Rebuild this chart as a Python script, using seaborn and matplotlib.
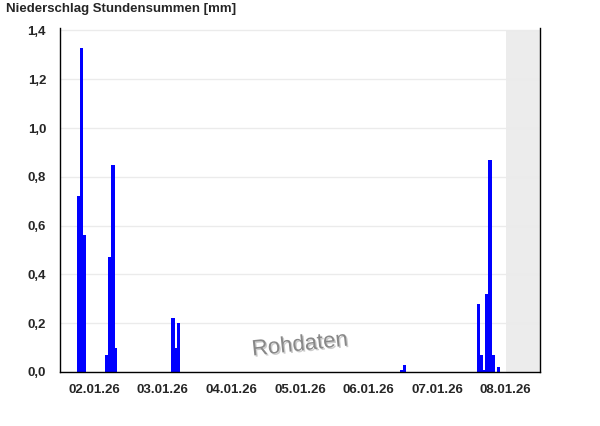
import numpy as np
import pandas as pd
import matplotlib
matplotlib.use("Agg")
import matplotlib.pyplot as plt
import matplotlib.patheffects as pe
import seaborn as sns

# ==========================================
# Data: hourly precipitation sums [mm]
# hours counted from 02.01.26 00:00
# ==========================================

rain_hours = [6, 7, 8, 16, 17, 18, 19, 39, 40, 41, 119, 120,
              146, 147, 148, 149, 150, 151, 153]
rain_mm = [0.72, 1.33, 0.56, 0.07, 0.47, 0.85, 0.10, 0.22, 0.10, 0.20, 0.01, 0.03,
           0.28, 0.07, 0.01, 0.32, 0.87, 0.07, 0.02]

day_labels = ["02.01.26", "03.01.26", "04.01.26", "05.01.26",
              "06.01.26", "07.01.26", "08.01.26"]
y_ticks = [0.0, 0.2, 0.4, 0.6, 0.8, 1.0, 1.2, 1.4]
no_data_from = 156  # 08.01.26 12:00

df = pd.DataFrame({"hour": rain_hours, "mm": rain_mm})

# ==========================================
# Plot
# ==========================================

sns.set_style("white")
plt.rcParams["font.family"] = ["Liberation Sans", "DejaVu Sans"]

fig = plt.figure(figsize=(6, 4.26), dpi=100)
ax = fig.add_axes([0.1, 0.1268, 0.8, 0.8075])

n_hours = 24 * len(day_labels)

ax.fill_between([no_data_from, n_hours], 0, 1.4, color="#ececec", lw=0, zorder=0)
for y in y_ticks:
    ax.axhline(y, color="#ebebeb", lw=1, zorder=0.5)

sns.histplot(
    data=df,
    x="hour",
    weights="mm",
    binwidth=1,
    binrange=(0, n_hours),
    shrink=1.2,
    color="#0000ff",
    alpha=1,
    linewidth=0,
    ax=ax,
    zorder=2
)

ax.set_xlim(0, n_hours)
ax.set_ylim(0, 1.41)
ax.set_xlabel("")
ax.set_ylabel("")

# y axis
ax.set_yticks(y_ticks)
ax.set_yticklabels([f"{v:.1f}".replace(".", ",") for v in y_ticks],
                   fontweight="bold", fontsize=9.5)
ax.tick_params(axis="y", direction="out", length=5, width=1, color="black", pad=5)

# x axis: long ticks at midnight, short ticks every 6 h, labels at noon
ax.set_xticks(np.arange(0, n_hours + 1, 24))
ax.set_xticklabels([])
minor_pos = [h for h in range(6, n_hours, 6) if h % 24 != 0]
minor_lab = [day_labels[h // 24] if h % 24 == 12 else "" for h in minor_pos]
ax.set_xticks(minor_pos, labels=minor_lab, minor=True)
for t in ax.get_xticklabels(minor=True):
    t.set_fontweight("bold")
    t.set_fontsize(9.5)
ax.tick_params(axis="x", which="major", direction="out", length=6, width=1, color="black")
ax.tick_params(axis="x", which="minor", direction="out", length=4, width=1,
               color="black", pad=5)

for side in ["left", "bottom", "right"]:
    ax.spines[side].set_visible(True)
    ax.spines[side].set_color("black")
    ax.spines[side].set_linewidth(1)
ax.spines["top"].set_visible(False)

fig.text(0.01, 0.978, "Niederschlag Stundensummen [mm]",
         fontweight="bold", fontsize=9.5, va="center", ha="left")

fig.text(0.5, 0.19, "Rohdaten", fontsize=16, color="#888888",
         rotation=6, ha="center", va="center",
         path_effects=[pe.withSimplePatchShadow(offset=(1, -1), shadow_rgbFace="#cccccc", alpha=1)])

plt.savefig("out.png", dpi=100)
